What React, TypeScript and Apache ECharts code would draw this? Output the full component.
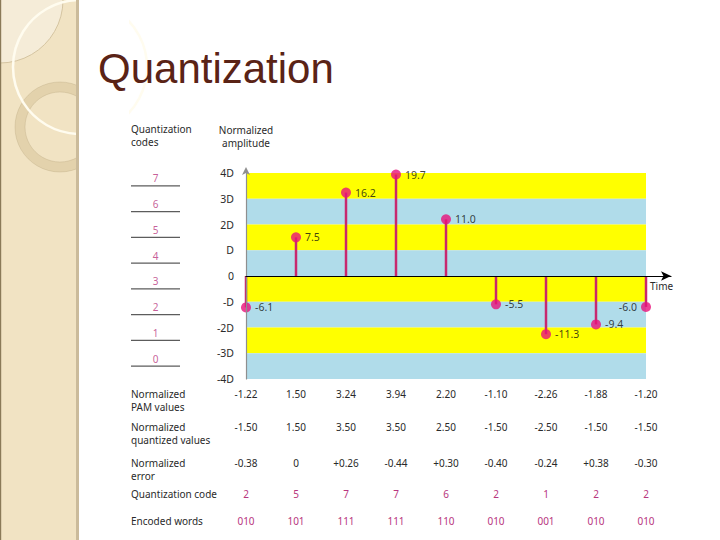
import React, { useEffect, useRef } from "react";
import * as echarts from "echarts";

// ---- data ----
const sampleIndex = [0, 1, 2, 3, 4, 5, 6, 7, 8];
const amplitudes = [-6.1, 7.5, 16.2, 19.7, 11.0, -5.5, -11.3, -9.4, -6.0];
const amplitudeLabels = ["-6.1", "7.5", "16.2", "19.7", "11.0", "-5.5", "-11.3", "-9.4", "-6.0"];
const yTickValues = [-20, -15, -10, -5, 0, 5, 10, 15, 20];
const yTickLabels = ["-4D", "-3D", "-2D", "-D", "0", "D", "2D", "3D", "4D"];
const bandEdges = [20, 15, 10, 5, 0, -5, -10, -15, -20];
const codeLevels = [17.5, 12.5, 7.5, 2.5, -2.5, -7.5, -12.5, -17.5];
const codeNames = ["7", "6", "5", "4", "3", "2", "1", "0"];
const pamValues = ["-1.22", "1.50", "3.24", "3.94", "2.20", "-1.10", "-2.26", "-1.88", "-1.20"];
const quantizedValues = ["-1.50", "1.50", "3.50", "3.50", "2.50", "-1.50", "-2.50", "-1.50", "-1.50"];
const errorValues = ["-0.38", "0", "+0.26", "-0.44", "+0.30", "-0.40", "-0.24", "+0.38", "-0.30"];
const quantizationCodes = ["2", "5", "7", "7", "6", "2", "1", "2", "2"];
const encodedWords = ["010", "101", "111", "111", "110", "010", "001", "010", "010"];
const rowTitles = [
  "Normalized\nPAM values",
  "Normalized\nquantized values",
  "Normalized\nerror",
  "Quantization code",
  "Encoded words",
];
const title = "Quantization";

const FONT = "'Noto Sans', sans-serif";
const TXT = "#2a2a2a";
const MAGENTA = "#b8367e";

export default function App() {
  const ref = useRef<HTMLDivElement>(null);
  useEffect(() => {
    if (!ref.current) return;
    const chart = echarts.init(ref.current, null, { renderer: "svg" });

    const gridTop = 173;
    const gridH = 206;
    const gridBottom = gridTop + gridH;
    const rowCenters = [394, 427, 463, 494, 521];
    const rows = [pamValues, quantizedValues, errorValues, quantizationCodes, encodedWords];
    const rowColors = [TXT, TXT, TXT, MAGENTA, MAGENTA];

    const rowAxes = rows.map((vals, k) => ({
      type: "value",
      gridIndex: 0,
      min: 0,
      max: 8.5,
      interval: 1,
      position: "bottom",
      offset: rowCenters[k] - gridBottom,
      axisLine: { show: false, onZero: false },
      axisTick: { show: false },
      splitLine: { show: false },
      axisLabel: {
        show: true,
        margin: 0,
        verticalAlign: "middle",
        fontFamily: FONT,
        fontSize: 10,
        color: rowColors[k],
        formatter: (v: number) => (Number.isInteger(v) && vals[v] !== undefined ? vals[v] : ""),
      },
    }));

    const bands = bandEdges.slice(0, -1).map((top, i) => [
      { xAxis: 0, yAxis: top, itemStyle: { color: i % 2 === 0 ? "#ffff00" : "#b0dcea" } },
      { xAxis: 8, yAxis: bandEdges[i + 1] },
    ]);

    const option: any = {
      animation: false,
      backgroundColor: "#ffffff",
      textStyle: { fontFamily: FONT },
      grid: [
        { left: 246, top: gridTop, width: 425, height: gridH },
        { left: 131, top: gridTop, width: 49, height: gridH },
      ],
      xAxis: [
        {
          type: "value",
          gridIndex: 0,
          min: 0,
          max: 8.5,
          interval: 1,
          z: 10,
          axisLine: {
            show: true,
            onZero: true,
            symbol: ["none", "arrow"],
            symbolSize: [7, 10],
            lineStyle: { color: "#000", width: 1.2 },
          },
          axisTick: { show: false },
          axisLabel: { show: false },
          splitLine: { show: false },
          name: "Time",
          nameLocation: "end",
          nameGap: -21,
          nameTextStyle: { fontFamily: FONT, fontSize: 10, color: TXT, verticalAlign: "top", padding: [5, 0, 0, 0] },
        },
        ...rowAxes,
        {
          type: "value",
          gridIndex: 1,
          min: 0,
          max: 1,
          show: false,
        },
      ],
      yAxis: [
        {
          type: "value",
          gridIndex: 0,
          min: -20,
          max: 20,
          interval: 5,
          z: 10,
          axisLine: {
            show: true,
            onZero: false,
            symbol: ["none", "arrow"],
            symbolSize: [6, 8],
            symbolOffset: [0, 6],
            lineStyle: { color: "#8f8f8f", width: 1.2 },
          },
          axisTick: { show: false },
          splitLine: { show: false },
          axisLabel: {
            margin: 12,
            fontFamily: FONT,
            fontSize: 10.5,
            color: TXT,
            formatter: (v: number) => {
              const i = yTickValues.indexOf(v);
              return i >= 0 ? yTickLabels[i] : "";
            },
          },
          name: "Normalized\namplitude",
          nameLocation: "end",
          nameGap: 24,
          nameTextStyle: { fontFamily: FONT, fontSize: 10, color: TXT, lineHeight: 13, align: "center" },
        },
        { type: "value", gridIndex: 1, min: -20, max: 20, show: false },
      ],
      series: [
        {
          type: "line",
          xAxisIndex: 0,
          yAxisIndex: 0,
          data: [],
          z: 1,
          silent: true,
          markArea: { silent: true, data: bands },
        },
        {
          type: "bar",
          xAxisIndex: 0,
          yAxisIndex: 0,
          barWidth: 2.5,
          z: 3,
          itemStyle: { color: "#c8286e" },
          data: sampleIndex.map((i) => [i, amplitudes[i]]),
        },
        {
          type: "scatter",
          xAxisIndex: 0,
          yAxisIndex: 0,
          symbol: "circle",
          symbolSize: 10,
          z: 4,
          itemStyle: { color: "#e8127a" },
          data: sampleIndex.map((i) => ({
            value: [i, amplitudes[i]],
            label: { position: i === sampleIndex.length - 1 ? "left" : "right" },
          })),
          label: {
            show: true,
            distance: 4,
            fontFamily: FONT,
            fontSize: 10.5,
            color: "#111",
            formatter: (p: any) => amplitudeLabels[p.dataIndex],
          },
        },
        {
          type: "scatter",
          xAxisIndex: 1 + rows.length,
          yAxisIndex: 1,
          symbol: "rect",
          symbolSize: [49, 1.2],
          itemStyle: { color: "#333" },
          data: codeLevels.map((v) => [0.5, v]),
          label: {
            show: true,
            position: "top",
            distance: 2,
            fontFamily: FONT,
            fontSize: 10,
            color: MAGENTA,
            formatter: (p: any) => codeNames[p.dataIndex],
          },
        },
      ],
      graphic: [
        { type: "rect", shape: { x: 0, y: 0, width: 78, height: 540 }, style: { fill: "#f1e3c3" }, z: 0 },
        { type: "circle", shape: { cx: 0, cy: 0, r: 63 }, style: { fill: "#f5ecd8", stroke: "#cdbb96", lineWidth: 0.8 }, z: 1 },
        { type: "ring", shape: { cx: 60, cy: 127, r: 45, r0: 35 }, style: { fill: "rgba(200,178,130,0.35)", stroke: "rgba(175,155,115,0.35)", lineWidth: 0.8 }, z: 2 },
        { type: "circle", shape: { cx: 80, cy: 67, r: 67 }, style: { fill: "none", stroke: "#fffcef", lineWidth: 2.5 }, z: 3 },
        { type: "rect", shape: { x: 79, y: 0, width: 50, height: 300 }, style: { fill: "#ffffff" }, z: 4 },
        { type: "rect", shape: { x: 76, y: 0, width: 3, height: 540 }, style: { fill: "#cbbb9b" }, z: 5 },
        { type: "rect", shape: { x: 0, y: 0, width: 1.2, height: 540 }, style: { fill: "#8a7a58" }, z: 5 },
        {
          type: "text",
          x: 98,
          y: 68,
          z: 6,
          style: { text: title, font: "42px 'Liberation Sans', Arial, sans-serif", fill: "#5a2316", textVerticalAlign: "middle" },
        },
        {
          type: "text",
          x: 131,
          y: 122,
          z: 6,
          style: { text: "Quantization\ncodes", font: `10px ${FONT}`, fill: TXT, lineHeight: 13, textVerticalAlign: "top" },
        },
        ...rowTitles.map((t, k) => ({
          type: "text",
          x: 131,
          y: rowCenters[k] - 6.5,
          z: 6,
          style: { text: t, font: `10px ${FONT}`, fill: TXT, lineHeight: 13, textVerticalAlign: "top" },
        })),
      ],
    };

    chart.setOption(option);
    return () => chart.dispose();
  }, []);

  return (
    <div
      ref={ref}
      style={{ position: "absolute", left: 0, top: 0, width: 720, height: 540, background: "#fff" }}
    />
  );
}
